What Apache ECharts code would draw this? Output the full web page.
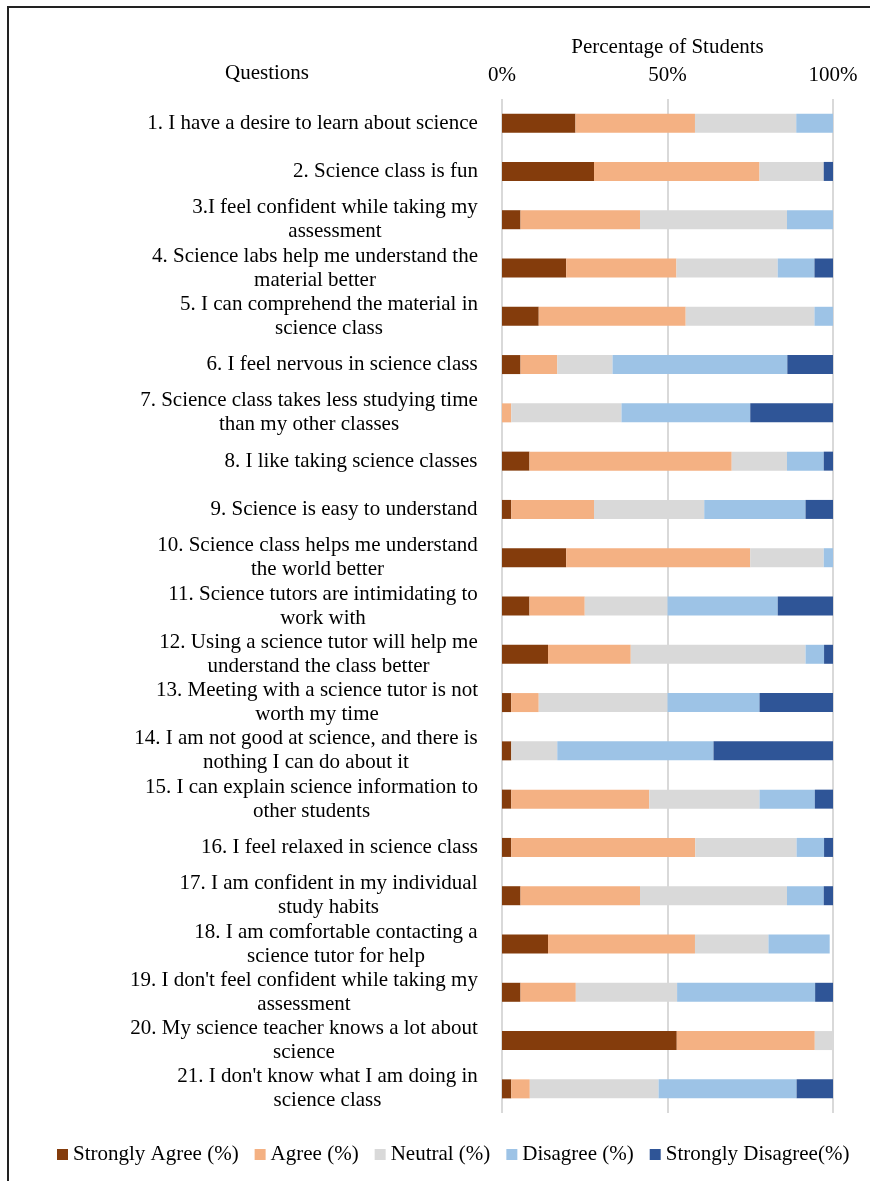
<!DOCTYPE html>
<html>
<head>
<meta charset="utf-8">
<script src="https://cdn.jsdelivr.net/npm/echarts@6/dist/echarts.min.js"></script>
<style>
  html, body { margin: 0; padding: 0; background: #fff; }
  #chart { width: 870px; height: 1181px; }
</style>
</head>
<body>
<div id="chart"></div>
<script>
// questions, top to bottom
const questions = [
  '1. I have a desire to learn about science',
  '2. Science class is fun',
  '3.I feel confident while taking my\nassessment',
  '4. Science labs help me understand the\nmaterial better',
  '5. I can comprehend the material in\nscience class',
  '6. I feel nervous in science class',
  '7. Science class takes less studying time\nthan my other classes',
  '8. I like taking science classes',
  '9. Science is easy to understand',
  '10. Science class helps me understand\nthe world better',
  '11. Science tutors are intimidating to\nwork with',
  '12. Using a science tutor will help me\nunderstand the class better',
  '13. Meeting with a science tutor is not\nworth my time',
  '14. I am not good at science, and there is\nnothing I can do about it',
  '15. I can explain science information to\nother students',
  '16. I feel relaxed in science class',
  '17. I am confident in my individual\nstudy habits',
  '18. I am comfortable contacting a\nscience tutor for help',
  "19. I don't feel confident while taking my\nassessment",
  '20. My science teacher knows a lot about\nscience',
  "21. I don't know what I am doing in\nscience class"
];

const stronglyAgree = [22.2, 27.8, 5.6, 19.4, 11.1, 5.6, 0, 8.3, 2.8, 19.4, 8.3, 13.9, 2.8, 2.8, 2.8, 2.8, 5.6, 13.9, 5.6, 52.8, 2.8];
const agree         = [36.1, 50.0, 36.1, 33.3, 44.4, 11.1, 2.8, 61.1, 25.0, 55.6, 16.7, 25.0, 8.3, 0, 41.7, 55.6, 36.1, 44.4, 16.7, 41.7, 5.6];
const neutral       = [30.6, 19.4, 44.4, 30.6, 38.9, 16.7, 33.3, 16.7, 33.3, 22.2, 25.0, 52.8, 38.9, 13.9, 33.3, 30.6, 44.4, 22.2, 30.6, 5.6, 38.9];
const disagree      = [11.1, 0, 13.9, 11.1, 5.6, 52.8, 38.9, 11.1, 30.6, 2.8, 33.3, 5.6, 27.8, 47.2, 16.7, 8.3, 11.1, 18.5, 41.7, 0, 41.7];
const stronglyDis   = [0, 2.8, 0, 5.6, 0, 13.9, 25.0, 2.8, 8.3, 0, 16.7, 2.8, 22.2, 36.1, 5.6, 2.8, 2.8, 0, 5.6, 0, 11.1];

const seriesNames = ['Strongly Agree (%)', 'Agree (%)', 'Neutral (%)', 'Disagree (%)', 'Strongly Disagree(%)'];
const seriesColors = ['#843C0C', '#F4B183', '#D9D9D9', '#9DC3E6', '#2F5597'];
const seriesData = [stronglyAgree, agree, neutral, disagree, stronglyDis];

const font = 'Liberation Serif';
const fontSize = 21;

// wrapped labels: lines are centred on each other, block sits right-aligned
const ctx = document.createElement('canvas').getContext('2d');
ctx.font = fontSize + 'px "' + font + '"';
const labelRich = {};
questions.forEach((q, i) => {
  const w = Math.max(...q.split('\n').map(l => ctx.measureText(l).width));
  labelRich['q' + i] = {
    width: Math.ceil(w), align: 'center',
    fontFamily: font, fontSize: fontSize, color: '#000', lineHeight: 24
  };
});

const chart = echarts.init(document.getElementById('chart'));

const option = {
  animation: false,
  textStyle: { fontFamily: font, color: '#000' },
  title: {
    text: 'Questions',
    left: 220,
    top: 58,
    textStyle: { fontFamily: font, fontSize: fontSize, fontWeight: 'normal', color: '#000' }
  },
  grid: { left: 502, right: 37, top: 99, bottom: 68 },
  xAxis: {
    type: 'value',
    position: 'top',
    min: 0,
    max: 100,
    interval: 50,
    name: 'Percentage of Students',
    nameLocation: 'middle',
    nameGap: 41,
    nameTextStyle: { fontFamily: font, fontSize: fontSize, color: '#000' },
    axisLine: { show: false },
    axisTick: { show: false },
    axisLabel: { formatter: '{value}%', fontFamily: font, fontSize: fontSize, color: '#000', margin: 13 },
    splitLine: { show: true, lineStyle: { color: '#d9d9d9', width: 2 } }
  },
  yAxis: {
    type: 'category',
    data: questions,
    inverse: true,
    axisLine: { show: false },
    axisTick: { show: false },
    axisLabel: {
      margin: 24,
      align: 'right',
      formatter: (value, index) => value.split('\n').map(l => '{q' + index + '|' + l + '}').join('\n'),
      rich: labelRich
    }
  },
  legend: {
    bottom: 11,
    left: 52,
    icon: 'rect',
    itemWidth: 11,
    itemHeight: 11,
    itemGap: 16,
    textStyle: { fontFamily: font, fontSize: fontSize, color: '#000' },
    data: seriesNames
  },
  graphic: [{
    type: 'polyline',
    shape: { points: [[8, 1181], [8, 7], [870, 7]] },
    style: { stroke: '#222', lineWidth: 2, fill: null }
  }],
  series: seriesNames.map((name, i) => ({
    name: name,
    type: 'bar',
    stack: 'total',
    barWidth: 19,
    itemStyle: { color: seriesColors[i] },
    data: seriesData[i]
  }))
};

chart.setOption(option);
</script>
</body>
</html>
